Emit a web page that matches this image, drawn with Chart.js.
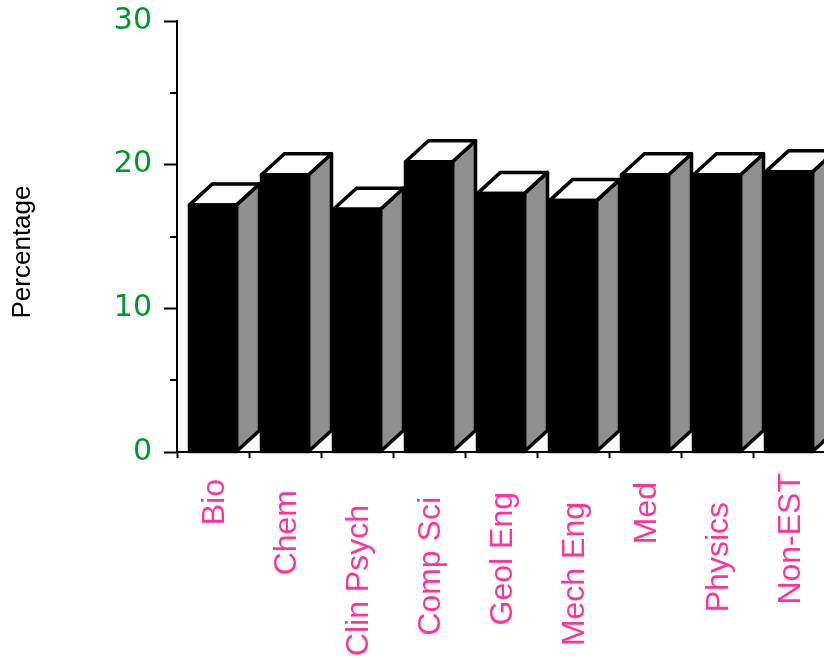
<!DOCTYPE html>
<html>
<head>
<meta charset="utf-8">
<script src="https://cdn.jsdelivr.net/npm/chart.js@4.4.0/dist/chart.umd.min.js"></script>
<style>
  html, body { margin: 0; padding: 0; background: #fff; overflow: hidden; }
  #wrap { width: 825px; height: 659px; }
</style>
</head>
<body>
<div id="wrap"><canvas id="myChart" width="825" height="659"></canvas></div>
<script>
// dados
const categories = ['Bio', 'Chem', 'Clin Psych', 'Comp Sci', 'Geol Eng', 'Mech Eng', 'Med', 'Physics', 'Non-EST']
const percentages = [17.2, 19.3, 16.9, 20.2, 18.0, 17.5, 19.3, 19.3, 19.5]
const yTicks = [0, 10, 20, 30]
const yMinorTicks = [5, 15, 25]

// deslocamento vertical de cada rótulo do eixo x (estilo)
const labelDrop = [27, 38, 53, 45, 40, 50, 30, 50, 21]

const GREEN = '#009926'
const PINK = '#ff3399'
const SIDE_GRAY = '#8f8f8f'
const DEPTH_X = 23
const DEPTH_Y = -21

// Plugin que desenha o topo e a lateral de cada barra (efeito 3D)
const bars3d = {
  id: 'bars3d',
  afterDatasetsDraw(chart) {
    const ctx = chart.ctx
    const meta = chart.getDatasetMeta(0)
    ctx.save()
    ctx.lineWidth = 3.5
    ctx.lineJoin = 'round'
    ctx.strokeStyle = '#000'
    meta.data.forEach(bar => {
      const { x, y, base, width } = bar.getProps(['x', 'y', 'base', 'width'], true)
      const xl = x - width / 2
      const xr = x + width / 2
      // lateral
      ctx.beginPath()
      ctx.moveTo(xr, y)
      ctx.lineTo(xr + DEPTH_X, y + DEPTH_Y)
      ctx.lineTo(xr + DEPTH_X, base + DEPTH_Y)
      ctx.lineTo(xr, base)
      ctx.closePath()
      ctx.fillStyle = SIDE_GRAY
      ctx.fill()
      ctx.stroke()
      // topo
      ctx.beginPath()
      ctx.moveTo(xl, y)
      ctx.lineTo(xl + DEPTH_X, y + DEPTH_Y)
      ctx.lineTo(xr + DEPTH_X, y + DEPTH_Y)
      ctx.lineTo(xr, y)
      ctx.closePath()
      ctx.fillStyle = '#fff'
      ctx.fill()
      ctx.stroke()
      // contorno da frente
      ctx.strokeRect(xl, y, width, base - y)
    })
    ctx.restore()
  },
  afterDraw(chart) {
    const ctx = chart.ctx
    const yScale = chart.scales.y
    const xScale = chart.scales.x

    // marcas menores do eixo y
    ctx.save()
    ctx.strokeStyle = '#000'
    ctx.lineWidth = 2
    yMinorTicks.forEach(v => {
      const py = Math.round(yScale.getPixelForValue(v))
      ctx.beginPath()
      ctx.moveTo(yScale.right - 7, py)
      ctx.lineTo(yScale.right, py)
      ctx.stroke()
    })

    // rótulos do eixo x, girados
    ctx.fillStyle = PINK
    ctx.font = '32px "Liberation Sans", Arial, sans-serif'
    ctx.textAlign = 'right'
    ctx.textBaseline = 'middle'
    categories.forEach((label, i) => {
      const px = xScale.getPixelForValue(i) + 2
      const py = xScale.top + labelDrop[i]
      ctx.save()
      ctx.translate(px, py)
      ctx.rotate(-Math.PI / 2)
      ctx.fillText(label, 0, 0)
      ctx.restore()
    })

    // título do eixo y
    ctx.fillStyle = '#000'
    ctx.font = '500 26px "Liberation Sans", Arial, sans-serif'
    ctx.textAlign = 'center'
    ctx.translate(23, 252)
    ctx.rotate(-Math.PI / 2)
    ctx.fillText('Percentage', 0, 0)
    ctx.restore()
  }
}

const ctx = document.getElementById('myChart').getContext('2d')
new Chart(ctx, {
  type: 'bar',
  data: {
    labels: categories,
    datasets: [
      {
        label: 'Percentage',
        data: percentages,
        backgroundColor: '#000',
        borderColor: '#000',
        borderWidth: 0,
        barPercentage: 0.653,
        categoryPercentage: 1
      }
    ]
  },
  options: {
    responsive: false,
    animation: false,
    layout: { padding: { top: 21, right: 0, bottom: 0, left: 0 } },
    plugins: {
      legend: { display: false },
      tooltip: { enabled: false }
    },
    scales: {
      x: {
        offset: true,
        afterFit(scale) {
          scale.height = 207
          scale.paddingLeft = 0
          scale.paddingRight = 0
        },
        grid: {
          offset: true,
          drawOnChartArea: false,
          drawTicks: true,
          tickLength: 6,
          tickWidth: 2,
          tickColor: '#000'
        },
        border: { display: true, color: '#000', width: 2 },
        ticks: { display: false }
      },
      y: {
        min: 0,
        max: 30,
        afterFit(scale) {
          scale.width = 177
          scale.paddingTop = 0
          scale.paddingBottom = 0
        },
        afterBuildTicks(scale) {
          scale.ticks = yTicks.map(v => ({ value: v }))
        },
        grid: {
          drawOnChartArea: false,
          tickLength: 13,
          tickWidth: 2,
          tickColor: '#000'
        },
        border: { display: true, color: '#000', width: 2 },
        ticks: {
          padding: 12,
          color: GREEN,
          font: { family: '"DejaVu Sans", Verdana, sans-serif', size: 30 }
        }
      }
    }
  },
  plugins: [bars3d]
})
</script>
</body>
</html>
